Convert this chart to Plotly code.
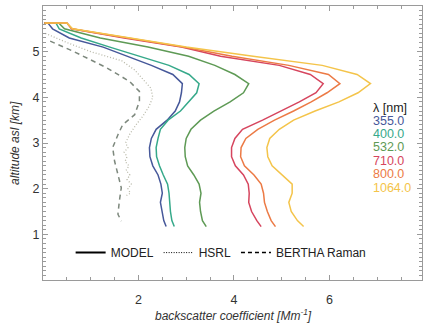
import plotly.graph_objects as go

# ---------------- data ----------------
alt_model = [5.63, 5.63, 5.5, 5.3, 5.1, 4.9, 4.7, 4.5, 4.3, 4.1, 3.9, 3.7, 3.5, 3.3, 3.1,
             2.9, 2.7, 2.5, 2.3, 2.1, 1.9, 1.7, 1.5, 1.3, 1.17]

model_355 = [0.02, 0.1, 0.2, 0.55, 1.26, 1.76, 2.27, 2.72, 2.92, 2.9, 2.86, 2.77, 2.6, 2.37,
             2.27, 2.23, 2.24, 2.3, 2.41, 2.47, 2.5, 2.46, 2.49, 2.53, 2.58]
model_400 = [0.03, 0.27, 0.34, 0.8, 1.4, 2.02, 2.64, 3.06, 3.27, 3.22, 3.05, 2.88, 2.62, 2.46,
             2.41, 2.37, 2.38, 2.44, 2.52, 2.61, 2.64, 2.65, 2.67, 2.7, 2.75]
model_532 = [0.03, 0.33, 0.45, 1.2, 2.2, 3.05, 3.6, 4.02, 4.31, 4.2, 3.92, 3.58, 3.3, 3.1,
             3.0, 2.97, 2.98, 3.03, 3.16, 3.27, 3.31, 3.28, 3.3, 3.34, 3.42]
model_710 = [0.03, 0.5, 0.6, 1.7, 2.9, 3.72, 4.95, 5.6, 5.87, 5.72, 5.37, 4.99, 4.6, 4.18,
             4.02, 3.95, 3.95, 4.03, 4.2, 4.3, 4.32, 4.31, 4.37, 4.48, 4.57]
model_800 = [0.03, 0.5, 0.6, 1.73, 2.94, 3.96, 5.15, 5.98, 6.22, 5.95, 5.62, 5.25, 4.85, 4.5,
             4.25, 4.15, 4.14, 4.22, 4.42, 4.57, 4.62, 4.64, 4.7, 4.78, 4.87]
model_1064 = [0.03, 0.5, 0.62, 1.8, 3.0, 4.4, 5.85, 6.58, 6.86, 6.6, 6.2, 5.7, 5.25, 4.95,
              4.75, 4.69, 4.71, 4.8, 5.0, 5.22, 5.22, 5.15, 5.2, 5.33, 5.46]

alt_hsrl = [5.4, 5.2, 5.0, 4.8, 4.6, 4.4, 4.2, 4.0, 3.8, 3.6, 3.4, 3.2, 3.0, 2.9, 2.8, 2.7,
            2.6, 2.5, 2.4, 2.3, 2.2, 2.1, 2.0, 1.9, 1.85]
hsrl = [0.05, 0.5, 1.0, 1.65, 1.92, 2.1, 2.26, 2.3, 2.22, 2.1, 1.95, 1.82, 1.73, 1.78, 1.7,
        1.76, 1.72, 1.8, 1.74, 1.82, 1.76, 1.85, 1.78, 1.83, 1.75]

alt_bertha = [5.23, 5.01, 4.65, 4.35, 4.13, 3.91, 3.62, 3.4, 3.18, 2.9, 2.6, 2.31, 2.02,
              1.73, 1.44, 1.29]
bertha = [0.15, 0.63, 1.33, 1.81, 2.02, 2.02, 1.92, 1.67, 1.57, 1.46, 1.5, 1.57, 1.64,
          1.6, 1.57, 1.64]

wavelengths = ["355.0", "400.0", "532.0", "710.0", "800.0", "1064.0"]
colors = ["#46589a", "#36a98a", "#5e9a55", "#d6455e", "#ec7a45", "#f4c44a"]
models = [model_355, model_400, model_532, model_710, model_800, model_1064]

x_ticks = [2, 4, 6]
y_ticks = [1, 2, 3, 4, 5]

FONT = "Liberation Sans, Arial, sans-serif"

fig = go.Figure()

fig.add_trace(go.Scatter(x=hsrl, y=alt_hsrl, mode="lines", showlegend=False,
                         line=dict(color="#b8b8a8", width=1.3, dash="1px,2px")))
fig.add_trace(go.Scatter(x=bertha, y=alt_bertha, mode="lines", showlegend=False,
                         line=dict(color="#7d887d", width=1.5, dash="5px,4px")))

for vals, col in zip(models, colors):
    fig.add_trace(go.Scatter(x=vals, y=alt_model, mode="lines", showlegend=False,
                             line=dict(color=col, width=1.5)))

# legend entries
fig.add_trace(go.Scatter(x=[None], y=[None], mode="lines", name="MODEL",
                         line=dict(color="black", width=2)))
fig.add_trace(go.Scatter(x=[None], y=[None], mode="lines", name="HSRL",
                         line=dict(color="black", width=1, dash="1px,1.5px")))
fig.add_trace(go.Scatter(x=[None], y=[None], mode="lines", name="BERTHA Raman",
                         line=dict(color="black", width=1.5, dash="4px,3px")))

# wavelength labels
ann = [dict(text="λ [nm]", x=0.866, y=0.628, xref="paper", yref="paper",
            xanchor="left", yanchor="middle", showarrow=False,
            font=dict(family=FONT, size=12.5, color="#222"))]
ys = [0.580, 0.532, 0.484, 0.435, 0.387, 0.337]
for lab, col, yy in zip(wavelengths, colors, ys):
    ann.append(dict(text=lab, x=0.866, y=yy, xref="paper", yref="paper",
                    xanchor="left", yanchor="middle", showarrow=False,
                    font=dict(family=FONT, size=12.5, color=col)))

ann.append(dict(text="backscatter coefficient [Mm<sup>-1</sup>]", x=0.503, y=-0.128,
                xref="paper", yref="paper", xanchor="center", yanchor="middle",
                showarrow=False,
                font=dict(family=FONT, size=12, color="#333", style="italic")))
ann.append(dict(text="altitude asl [km]", x=-0.074, y=0.5, xref="paper", yref="paper",
                xanchor="center", yanchor="middle", textangle=-90, showarrow=False,
                font=dict(family=FONT, size=12, color="#333", style="italic")))

axis_common = dict(showline=True, linecolor="#9a9a9a", linewidth=1, mirror="ticks",
                   ticks="inside", tickcolor="#9a9a9a", ticklen=5, showgrid=False,
                   zeroline=False, tickfont=dict(family=FONT, size=12.5, color="#333"))

fig.update_xaxes(range=[0, 7.94], tickvals=x_ticks, ticklabelstandoff=8,
                 minor=dict(dtick=0.5, tick0=0, ticks="inside", ticklen=3,
                            tickcolor="#9a9a9a"),
                 **axis_common)
fig.update_yaxes(range=[0, 6], tickvals=y_ticks,
                 minor=dict(dtick=0.1, tick0=0, ticks="inside", ticklen=3,
                            tickcolor="#9a9a9a"),
                 **axis_common)

fig.update_layout(
    width=424, height=327,
    margin=dict(l=43, r=2, t=6, b=47),
    paper_bgcolor="white", plot_bgcolor="white",
    annotations=ann,
    legend=dict(orientation="h", x=0.47, y=0.1, xanchor="center", yanchor="middle",
                bgcolor="rgba(0,0,0,0)", font=dict(family=FONT, size=12, color="#222"),
                itemwidth=30, entrywidth=0),
)

fig.write_html("out.html", config={"displayModeBar": False},
               post_script="document.body.style.margin='0';document.body.style.overflow='hidden';")
